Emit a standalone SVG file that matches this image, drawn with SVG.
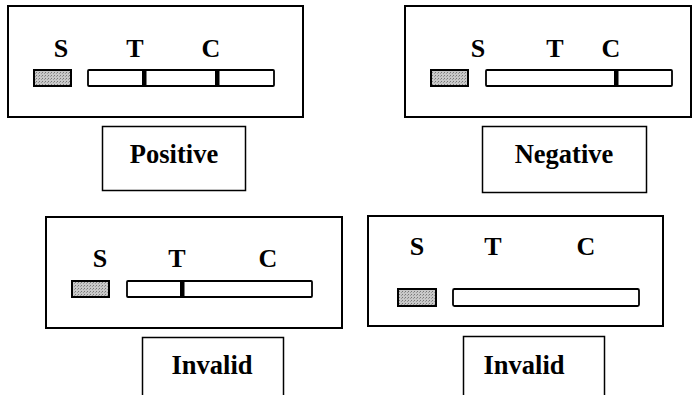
<svg xmlns="http://www.w3.org/2000/svg" width="692" height="395" viewBox="0 0 692 395">
<defs>
<pattern id="dots" width="3" height="3" patternUnits="userSpaceOnUse">
<rect width="3" height="3" fill="#c8c8c8"/>
<rect width="1" height="1" fill="#777"/>
<rect x="2" y="1" width="1" height="1" fill="#999"/>
</pattern>
</defs>
<style>
.frame{fill:#fff;stroke:#000;stroke-width:2}
.pad{fill:url(#dots);stroke:#000;stroke-width:2}
.strip{fill:#fff;stroke:#000;stroke-width:1.8}
.band{fill:#000}
.lbl{fill:#fff;stroke:#000;stroke-width:1.5}
.m{font-family:"Liberation Serif","Times New Roman",serif;font-weight:bold;font-size:26px;text-anchor:middle}
.t{font-family:"Liberation Serif","Times New Roman",serif;font-weight:bold;font-size:26.5px;text-anchor:middle}
</style>
<rect width="692" height="395" fill="#fff"/>
<g id="positive">
<rect class="frame" x="8" y="6" width="295" height="111"/>
<text class="m" x="61" y="57">S</text>
<text class="m" x="135" y="57">T</text>
<text class="m" x="211" y="57">C</text>
<rect class="pad" x="34" y="70" width="37" height="16"/>
<rect class="strip" x="88" y="70" width="186" height="16" rx="1"/>
<rect class="band" x="142" y="70" width="4.5" height="16"/>
<rect class="band" x="215" y="70" width="4.5" height="16"/>
<rect class="lbl" x="102.5" y="126.5" width="143" height="64"/>
<text class="t" x="174" y="163">Positive</text>
</g>
<g id="negative">
<rect class="frame" x="405" y="6" width="286" height="111"/>
<text class="m" x="478" y="57">S</text>
<text class="m" x="555" y="57">T</text>
<text class="m" x="611" y="57">C</text>
<rect class="pad" x="431" y="70" width="37" height="16"/>
<rect class="strip" x="486" y="70" width="186" height="16" rx="1"/>
<rect class="band" x="614" y="70" width="4.5" height="16"/>
<rect class="lbl" x="482.5" y="126.5" width="164" height="66"/>
<text class="t" x="564" y="163">Negative</text>
</g>
<g id="invalid1">
<rect class="frame" x="46" y="217" width="296" height="111"/>
<text class="m" x="100" y="267">S</text>
<text class="m" x="177" y="267">T</text>
<text class="m" x="268" y="267">C</text>
<rect class="pad" x="72" y="281" width="37" height="16"/>
<rect class="strip" x="127" y="281" width="185" height="16" rx="1"/>
<rect class="band" x="180" y="281" width="4.5" height="16"/>
<rect class="lbl" x="142.5" y="337.5" width="141" height="70"/>
<text class="t" x="212" y="374">Invalid</text>
</g>
<g id="invalid2">
<rect class="frame" x="368" y="216" width="295" height="110"/>
<text class="m" x="417" y="255">S</text>
<text class="m" x="493" y="255">T</text>
<text class="m" x="586" y="255">C</text>
<rect class="pad" x="398" y="289" width="38" height="17"/>
<rect class="strip" x="453" y="289" width="186" height="17" rx="1.5"/>
<rect class="lbl" x="463.5" y="336.5" width="141" height="70"/>
<text class="t" x="524" y="374">Invalid</text>
</g>
<g id="connectors"/>
</svg>
